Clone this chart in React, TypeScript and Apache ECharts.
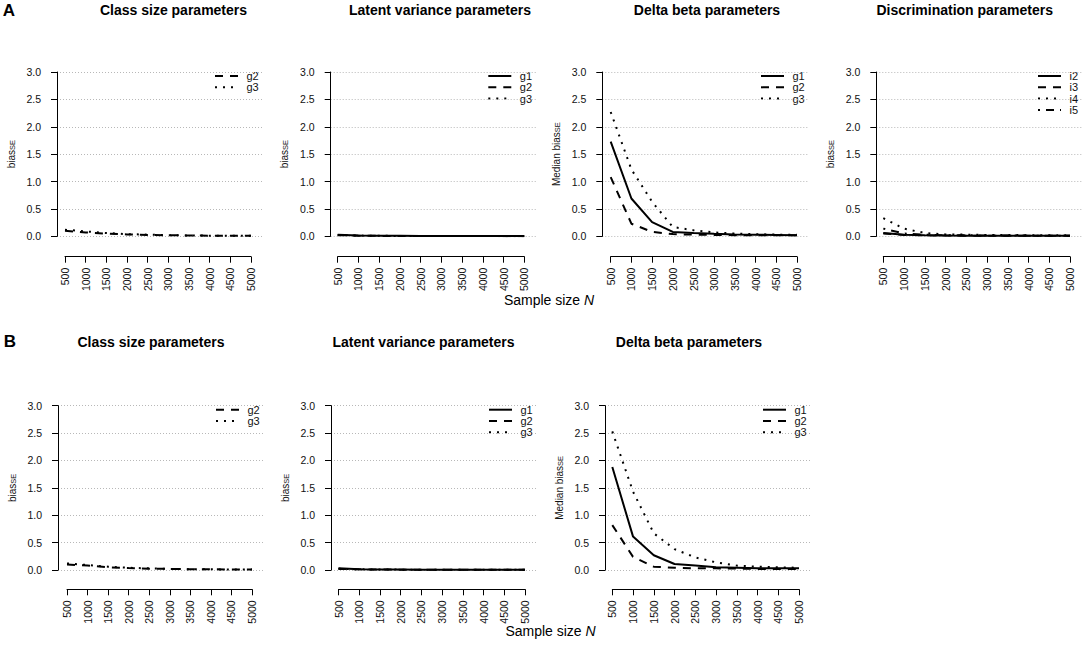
import React, { useEffect, useRef } from "react";
import * as echarts from "echarts";

// ---------- data ----------
const SAMPLE_SIZES = [500, 1000, 1500, 2000, 2500, 3000, 3500, 4000, 4500, 5000];
const Y_MIN = 0;
const Y_MAX = 3;
const Y_STEP = 0.5;

// Panel A
const A_CLASS_G2 = [0.1, 0.07, 0.05, 0.035, 0.025, 0.02, 0.015, 0.012, 0.01, 0.01];
const A_CLASS_G3 = [0.12, 0.09, 0.06, 0.04, 0.03, 0.02, 0.015, 0.012, 0.01, 0.01];
const A_LATENT_G1 = [0.03, 0.015, 0.01, 0.008, 0.006, 0.005, 0.005, 0.004, 0.004, 0.004];
const A_LATENT_G2 = [0.02, 0.012, 0.008, 0.006, 0.005, 0.004, 0.004, 0.004, 0.003, 0.003];
const A_LATENT_G3 = [0.025, 0.013, 0.009, 0.007, 0.005, 0.005, 0.004, 0.004, 0.003, 0.003];
const A_DELTA_G1 = [1.73, 0.69, 0.26, 0.08, 0.06, 0.045, 0.035, 0.03, 0.025, 0.02];
const A_DELTA_G2 = [1.08, 0.23, 0.08, 0.04, 0.03, 0.025, 0.02, 0.02, 0.02, 0.02];
const A_DELTA_G3 = [2.27, 1.22, 0.63, 0.17, 0.11, 0.07, 0.05, 0.04, 0.03, 0.03];
const A_DISC_I2 = [0.06, 0.03, 0.02, 0.015, 0.012, 0.01, 0.01, 0.01, 0.01, 0.01];
const A_DISC_I3 = [0.05, 0.025, 0.018, 0.014, 0.012, 0.01, 0.01, 0.01, 0.01, 0.01];
const A_DISC_I4 = [0.33, 0.14, 0.06, 0.035, 0.03, 0.025, 0.025, 0.02, 0.02, 0.02];
const A_DISC_I5 = [0.14, 0.05, 0.03, 0.02, 0.018, 0.015, 0.015, 0.012, 0.012, 0.01];

// Panel B
const B_CLASS_G2 = [0.1, 0.08, 0.05, 0.035, 0.025, 0.02, 0.015, 0.012, 0.01, 0.01];
const B_CLASS_G3 = [0.12, 0.09, 0.06, 0.04, 0.03, 0.02, 0.015, 0.012, 0.01, 0.01];
const B_LATENT_G1 = [0.03, 0.015, 0.01, 0.008, 0.006, 0.005, 0.005, 0.004, 0.004, 0.004];
const B_LATENT_G2 = [0.02, 0.012, 0.008, 0.006, 0.005, 0.004, 0.004, 0.004, 0.003, 0.003];
const B_LATENT_G3 = [0.025, 0.013, 0.009, 0.007, 0.005, 0.005, 0.004, 0.004, 0.003, 0.003];
const B_DELTA_G1 = [1.88, 0.61, 0.27, 0.11, 0.08, 0.05, 0.04, 0.03, 0.03, 0.03];
const B_DELTA_G2 = [0.82, 0.24, 0.06, 0.04, 0.03, 0.03, 0.025, 0.02, 0.02, 0.02];
const B_DELTA_G3 = [2.53, 1.43, 0.67, 0.38, 0.23, 0.14, 0.08, 0.06, 0.05, 0.04];

const TITLES = [
  "Class size parameters",
  "Latent variance parameters",
  "Delta beta parameters",
  "Discrimination parameters",
];
const X_TITLE = "Sample size ";
const X_TITLE_ITALIC = "N";

// ---------- styles ----------
const FONT = "'Liberation Sans', Arial, Helvetica, sans-serif";
const DASH: Record<string, any> = {
  g1: "solid",
  g2: [8, 7],
  g3: [2, 6],
  i2: "solid",
  i3: [8, 7],
  i4: [2, 6],
  i5: [2, 6, 8, 6],
};

type S = { name: string; values: number[] };
type Panel = {
  title: string;
  median: boolean;
  series: S[];
  x500: number;
  x5000: number;
  yAxisX: number;
  y3: number;
  y0: number;
  axisY: number;
  titleX: number;
  titleY: number;
};

const ROW_A = { y3: 72, y0: 236.3, axisY: 256.7, titleY: 10 };
const ROW_B = { y3: 405.7, y0: 570, axisY: 589.3, titleY: 342 };

const PANELS: Panel[] = [
  {
    title: TITLES[0], median: false,
    series: [{ name: "g2", values: A_CLASS_G2 }, { name: "g3", values: A_CLASS_G3 }],
    x500: 65, x5000: 251, yAxisX: 53, titleX: 173.5, ...ROW_A,
  },
  {
    title: TITLES[1], median: false,
    series: [{ name: "g1", values: A_LATENT_G1 }, { name: "g2", values: A_LATENT_G2 }, { name: "g3", values: A_LATENT_G3 }],
    x500: 337.7, x5000: 524.3, yAxisX: 326.7, titleX: 440, ...ROW_A,
  },
  {
    title: TITLES[2], median: true,
    series: [{ name: "g1", values: A_DELTA_G1 }, { name: "g2", values: A_DELTA_G2 }, { name: "g3", values: A_DELTA_G3 }],
    x500: 610.7, x5000: 797, yAxisX: 598.3, titleX: 707, ...ROW_A,
  },
  {
    title: TITLES[3], median: false,
    series: [
      { name: "i2", values: A_DISC_I2 }, { name: "i3", values: A_DISC_I3 },
      { name: "i4", values: A_DISC_I4 }, { name: "i5", values: A_DISC_I5 },
    ],
    x500: 883.3, x5000: 1070, yAxisX: 872.3, titleX: 964.7, ...ROW_A,
  },
  {
    title: TITLES[0], median: false,
    series: [{ name: "g2", values: B_CLASS_G2 }, { name: "g3", values: B_CLASS_G3 }],
    x500: 67, x5000: 252, yAxisX: 54, titleX: 151, ...ROW_B,
  },
  {
    title: TITLES[1], median: false,
    series: [{ name: "g1", values: B_LATENT_G1 }, { name: "g2", values: B_LATENT_G2 }, { name: "g3", values: B_LATENT_G3 }],
    x500: 338.5, x5000: 525, yAxisX: 327, titleX: 423.5, ...ROW_B,
  },
  {
    title: TITLES[2], median: true,
    series: [{ name: "g1", values: B_DELTA_G1 }, { name: "g2", values: B_DELTA_G2 }, { name: "g3", values: B_DELTA_G3 }],
    x500: 612.3, x5000: 799, yAxisX: 601, titleX: 689, ...ROW_B,
  },
];

function buildOption() {
  const grid: any[] = [];
  const xAxis: any[] = [];
  const yAxis: any[] = [];
  const series: any[] = [];
  const graphic: any[] = [];

  PANELS.forEach((p, i) => {
    const gw = 2 * i;
    const gd = 2 * i + 1;
    const left = p.yAxisX + 4;
    grid.push({ left, top: p.y3, width: p.x5000 + 12 - left, height: p.y0 - p.y3 });
    grid.push({ left: p.x500, top: p.y3, width: p.x5000 - p.x500, height: p.y0 - p.y3 });

    xAxis.push({ gridIndex: gw, type: "value", show: false, min: 0, max: 1 });
    xAxis.push({
      gridIndex: gd,
      type: "value",
      min: SAMPLE_SIZES[0],
      max: SAMPLE_SIZES[SAMPLE_SIZES.length - 1],
      interval: 500,
      offset: p.axisY - p.y0,
      axisLine: { show: true, onZero: false, lineStyle: { color: "#000", width: 1 } },
      axisTick: { show: true, length: 6, lineStyle: { color: "#000", width: 1 } },
      axisLabel: {
        rotate: 90,
        margin: 11,
        fontSize: 10.5,
        color: "#111",
        fontFamily: FONT,
        formatter: (v: number) => String(v),
      },
      splitLine: { show: false },
    });

    const yName = p.median ? "{a|Median bias}{b|SE}" : "{a|bias}{b|SE}";
    yAxis.push({
      gridIndex: gw,
      type: "value",
      min: Y_MIN,
      max: Y_MAX,
      interval: Y_STEP,
      offset: 4,
      axisLine: { show: true, lineStyle: { color: "#000", width: 1 } },
      axisTick: { show: true, length: 6, lineStyle: { color: "#000", width: 1 } },
      axisLabel: {
        margin: 12,
        fontSize: 10.5,
        color: "#111",
        fontFamily: FONT,
        formatter: (v: number) => v.toFixed(1),
      },
      splitLine: { show: true, lineStyle: { type: [1, 2], color: "#b8b8b8", width: 1 } },
      name: yName,
      nameLocation: "middle",
      nameGap: 37,
      nameTextStyle: {
        rich: {
          a: { fontSize: 10, lineHeight: 14, verticalAlign: "bottom", color: "#111", fontFamily: FONT },
          b: { fontSize: 7.5, lineHeight: 8, verticalAlign: "bottom", color: "#111", fontFamily: FONT },
        },
      },
    });
    yAxis.push({ gridIndex: gd, type: "value", show: false, min: Y_MIN, max: Y_MAX });

    p.series.forEach((s) => {
      series.push({
        type: "line",
        name: s.name,
        xAxisIndex: gd,
        yAxisIndex: gd,
        symbol: "none",
        silent: true,
        lineStyle: { color: "#000", width: 2, type: DASH[s.name], cap: "butt" },
        data: SAMPLE_SIZES.map((x, k) => [x, s.values[k]]),
      });
    });

    // title
    graphic.push({
      type: "text",
      x: p.titleX,
      y: p.titleY,
      style: {
        text: p.title,
        align: "center",
        verticalAlign: "middle",
        fontSize: 14,
        fontWeight: "bold",
        fontFamily: FONT,
        fill: "#000",
      },
    });

    // legend (R-style, top right inside plot)
    const textRight = p.x5000 + 8;
    p.series.forEach((s, k) => {
      const tw = s.name.startsWith("i") ? 8.5 : 12.5;
      const textLeft = textRight - tw;
      const lineEnd = textLeft - 8.5;
      const lineStart = lineEnd - 23;
      const yy = p.y3 + 4 + k * 11.3;
      graphic.push({
        type: "line",
        shape: { x1: lineStart, y1: yy, x2: lineEnd, y2: yy },
        style: {
          stroke: "#000",
          lineWidth: 2,
          lineDash: DASH[s.name] === "solid" ? null : DASH[s.name],
          lineCap: "butt",
        },
      });
      graphic.push({
        type: "text",
        x: textLeft,
        y: yy,
        style: {
          text: s.name,
          align: "left",
          verticalAlign: "middle",
          fontSize: 11,
          lineHeight: 11,
          fontFamily: FONT,
          fill: "#111",
        },
      });
    });
  });

  // panel letters
  graphic.push({
    type: "text", x: 9, y: 10,
    style: { text: "A", align: "center", verticalAlign: "middle", fontSize: 17, fontWeight: "bold", fontFamily: FONT, fill: "#000" },
  });
  graphic.push({
    type: "text", x: 10, y: 341,
    style: { text: "B", align: "center", verticalAlign: "middle", fontSize: 17, fontWeight: "bold", fontFamily: FONT, fill: "#000" },
  });

  // x axis titles
  [[549, 300], [550.5, 631]].forEach(([x, y]) => {
    graphic.push({
      type: "text",
      x,
      y,
      style: {
        text: `{a|${X_TITLE}}{b|${X_TITLE_ITALIC}}`,
        align: "center",
        verticalAlign: "middle",
        rich: {
          a: { fontSize: 14, fontFamily: FONT, fill: "#000" },
          b: { fontSize: 14, fontStyle: "italic", fontFamily: FONT, fill: "#000" },
        },
      },
    });
  });

  return {
    animation: false,
    backgroundColor: "#fff",
    textStyle: { fontFamily: FONT },
    grid,
    xAxis,
    yAxis,
    series,
    graphic,
  };
}

export default function App() {
  const ref = useRef<HTMLDivElement>(null);
  useEffect(() => {
    if (!ref.current) return;
    const chart = echarts.init(ref.current, undefined, { renderer: "svg" });
    chart.setOption(buildOption() as any);
    return () => chart.dispose();
  }, []);
  return (
    <div
      ref={ref}
      style={{ position: "fixed", left: 0, top: 0, width: 1084, height: 651, background: "#fff" }}
    />
  );
}
